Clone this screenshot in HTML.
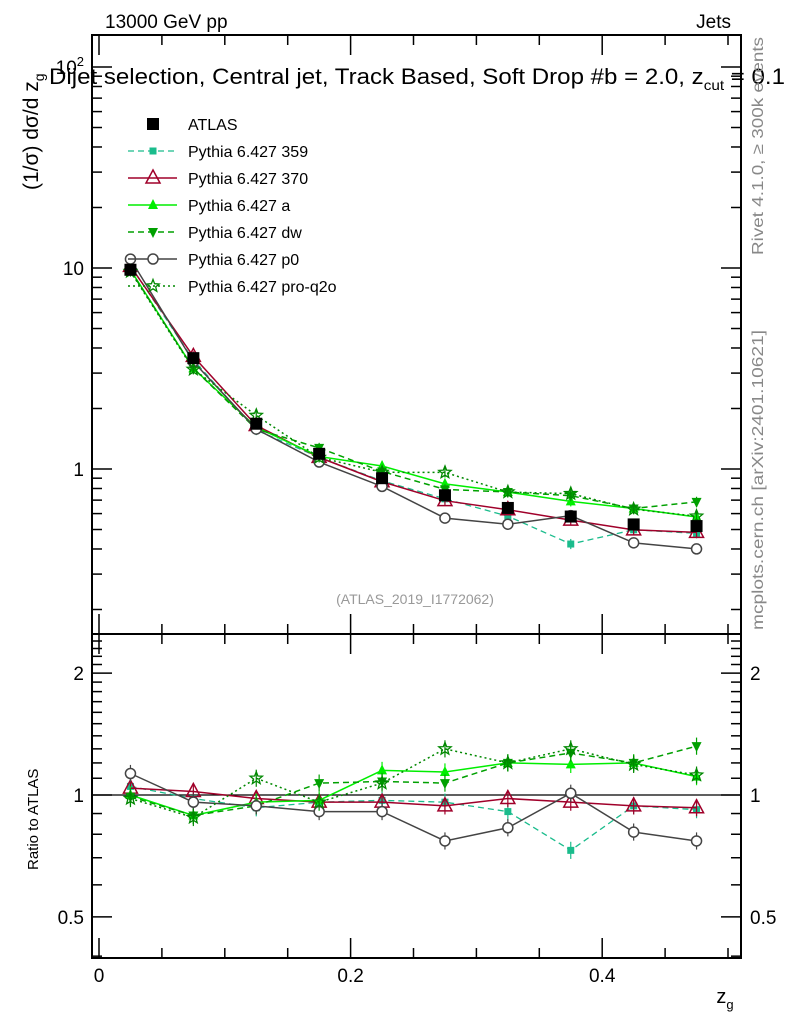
<!DOCTYPE html>
<html><head><meta charset="utf-8">
<style>
body{margin:0;background:#fff;}
svg{display:block;font-family:"Liberation Sans",sans-serif;}
</style></head>
<body>
<svg id="chart" width="786" height="1024" viewBox="0 0 786 1024" xmlns="http://www.w3.org/2000/svg">
<g id="main"></g>
<g id="ratio"></g>
<text x="105" y="28" font-size="19">13000 GeV pp</text>
<text x="731" y="28" font-size="19" text-anchor="end">Jets</text>
<text x="49" y="84" font-size="22" textLength="736" lengthAdjust="spacingAndGlyphs">Dijet selection, Central jet, Track Based, Soft Drop #b = 2.0, z<tspan dy="6" font-size="14">cut</tspan><tspan dy="-6"> = 0.1</tspan></text>
<text transform="translate(38,190) rotate(-90)" font-size="21">(1/σ) dσ/d z<tspan dy="6" font-size="14">g</tspan></text>
<text transform="translate(38,870) rotate(-90)" font-size="15">Ratio to ATLAS</text>
<text x="725" y="1003" font-size="20" text-anchor="middle">z<tspan dy="6" font-size="13">g</tspan></text>
<text transform="translate(763,255) rotate(-90)" font-size="16" fill="#888" textLength="218" lengthAdjust="spacingAndGlyphs">Rivet 4.1.0, ≥ 300k events</text>
<text transform="translate(763,630) rotate(-90)" font-size="16" fill="#888" textLength="300" lengthAdjust="spacingAndGlyphs">mcplots.cern.ch [arXiv:2401.10621]</text>
<text x="415" y="604" font-size="14" fill="#999" text-anchor="middle">(ATLAS_2019_I1772062)</text>
<g id="legend"></g>
</svg>
<script>
const xs=[0.025,0.075,0.125,0.175,0.225,0.275,0.325,0.375,0.425,0.475];
const atlas=[9.8,3.56,1.68,1.19,0.9,0.74,0.64,0.58,0.53,0.52];
const atlasErr=[0.03,0.03,0.03,0.04,0.05,0.05,0.05,0.05,0.05,0.05];
const r359=[1.05,0.98,0.93,0.96,0.97,0.96,0.91,0.73,0.94,0.92];
const r370=[1.04,1.02,0.98,0.96,0.96,0.94,0.98,0.96,0.94,0.93];
const rA=[1.0,0.89,0.96,0.97,1.15,1.14,1.2,1.19,1.2,1.11];
const rDW=[0.99,0.89,0.94,1.07,1.08,1.07,1.2,1.27,1.2,1.32];
const rP0=[1.13,0.96,0.94,0.91,0.91,0.77,0.83,1.01,0.81,0.77];
const rQ2O=[0.98,0.88,1.10,0.96,1.07,1.3,1.2,1.3,1.19,1.12];
const xTicks=[0,0.2,0.4];
const ratioTicks=[0.5,1,2];

const NS="http://www.w3.org/2000/svg";
const L=92,R=741,MT=35,MB=634,RT=634,RB=958;
const X=v=>99+v*1258;
const Y=v=>469-Math.log10(v)*201;
const YR=v=>795-Math.log10(v)*405;
function mk(p,tag,at){const e=document.createElementNS(NS,tag);for(const k in at)e.setAttribute(k,at[k]);p.appendChild(e);return e;}
const main=document.getElementById('main'),ratio=document.getElementById('ratio'),leg=document.getElementById('legend');

const series=[
 {name:'Pythia 6.427 359',r:r359,c:'#1abc8c',dash:'6,4',m:'sq',w:1.3},
 {name:'Pythia 6.427 370',r:r370,c:'#a0002a',dash:'',m:'tri-o',w:1.5},
 {name:'Pythia 6.427 a',r:rA,c:'#00ee00',dash:'',m:'tri',w:1.5},
 {name:'Pythia 6.427 dw',r:rDW,c:'#00a000',dash:'6,4',m:'tri-d',w:1.5},
 {name:'Pythia 6.427 p0',r:rP0,c:'#444',dash:'',m:'circ',w:1.5},
 {name:'Pythia 6.427 pro-q2o',r:rQ2O,c:'#008800',dash:'2,3',m:'star',w:1.5}
];
function marker(p,m,x,y,c){
 let e;
 if(m==='sq')e=mk(p,'rect',{x:x-3.5,y:y-3.5,width:7,height:7,fill:c});
 else if(m==='bsq')e=mk(p,'rect',{x:x-6,y:y-6,width:12,height:12,fill:'#000'});
 else if(m==='tri-o')e=mk(p,'polygon',{points:`${x},${y-8} ${x-7},${y+5} ${x+7},${y+5}`,fill:'none',stroke:c,'stroke-width':1.5});
 else if(m==='tri')e=mk(p,'polygon',{points:`${x},${y-6} ${x-5},${y+4} ${x+5},${y+4}`,fill:c});
 else if(m==='tri-d')e=mk(p,'polygon',{points:`${x},${y+6} ${x-5},${y-4} ${x+5},${y-4}`,fill:c});
 else if(m==='circ')e=mk(p,'circle',{cx:x,cy:y,r:5,fill:'#fff',stroke:c,'stroke-width':1.5});
 else {let pts=[];for(let i=0;i<10;i++){const a=-Math.PI/2+i*Math.PI/5,rr=i%2?2.8:6.5;pts.push((x+rr*Math.cos(a)).toFixed(1)+','+(y+rr*Math.sin(a)).toFixed(1));}
  e=mk(p,'polygon',{points:pts.join(' '),fill:'none',stroke:c,'stroke-width':1.3});}
 return e;
}
for(const [g,t,b] of [[main,MT,MB],[ratio,RT,RB]]){
 const f=mk(g,'rect',{x:L,y:t,width:R-L,height:b-t,fill:'none',stroke:'#000','stroke-width':2});
 
 
}
for(let i=0;i<=10;i++){
 const v=i*0.05;
 const major=i%4===0;
 const len=major?20:10;
 for(const [t,b] of [[MT,MB],[RT,RB]]){
  mk(main,'line',{x1:X(v),x2:X(v),y1:b,y2:b-len,stroke:'#000','stroke-width':1.5});
  mk(main,'line',{x1:X(v),x2:X(v),y1:t,y2:t+len,stroke:'#000','stroke-width':1.5});
 }
}
xTicks.forEach(v=>{const t=mk(ratio,'text',{x:X(v),y:982,'font-size':19,'text-anchor':'middle'});t.textContent=String(v);
 });
for(let d=-1;d<=2;d++)for(let k=1;k<10;k++){
 const v=k*Math.pow(10,d),y=Y(v);if(y<MT||y>MB)continue;
 const len=k===1?20:10;
 mk(main,'line',{x1:L,x2:L+len,y1:y,y2:y,stroke:'#000','stroke-width':1.5});
 mk(main,'line',{x1:R,x2:R-len,y1:y,y2:y,stroke:'#000','stroke-width':1.5});
}
[[1,'1'],[10,'10']].forEach(([v,s])=>{const t=mk(main,'text',{x:84,y:Y(v)+7,'font-size':19,'text-anchor':'end'});t.textContent=s;
 });
{const t=mk(main,'text',{x:84,y:Y(100)+7,'font-size':19,'text-anchor':'end'});t.innerHTML='10<tspan dy="-8" font-size="13">2</tspan>';
 }
for(let v=0.4;v<=2.5;v+=0.1){const y=YR(v);if(y<RT||y>RB)continue;
 const major=[0.5,1,2].some(q=>Math.abs(q-v)<1e-6);const len=major?20:10;
 mk(ratio,'line',{x1:L,x2:L+len,y1:y,y2:y,stroke:'#000','stroke-width':1.5});
 mk(ratio,'line',{x1:R,x2:R-len,y1:y,y2:y,stroke:'#000','stroke-width':1.5});}
ratioTicks.forEach(v=>{for(const [x,a] of [[84,'end'],[750,'start']]){const t=mk(ratio,'text',{x:x,y:YR(v)+7,'font-size':19,'text-anchor':a});t.textContent=String(v);
 }});
mk(ratio,'line',{x1:L,x2:R,y1:YR(1),y2:YR(1),stroke:'#000','stroke-width':1.2});
series.forEach(s=>{
 const vals=s.r.map((r,i)=>r*atlas[i]);
 const gm=mk(main,'g',{});
 const gr=mk(ratio,'g',{});
 mk(gm,'polyline',{points:xs.map((x,i)=>X(x)+','+Y(vals[i])).join(' '),fill:'none',stroke:s.c,'stroke-width':s.w,'stroke-dasharray':s.dash});
 mk(gr,'polyline',{points:xs.map((x,i)=>X(x)+','+YR(s.r[i])).join(' '),fill:'none',stroke:s.c,'stroke-width':s.w,'stroke-dasharray':s.dash});
 xs.forEach((x,i)=>{
  mk(gm,'line',{x1:X(x),x2:X(x),y1:Y(vals[i]*1.06),y2:Y(vals[i]/1.06),stroke:s.c,'stroke-width':1.2});
  mk(gr,'line',{x1:X(x),x2:X(x),y1:YR(s.r[i]*1.05),y2:YR(s.r[i]/1.05),stroke:s.c,'stroke-width':1.2});
  marker(gm,s.m,X(x),Y(vals[i]),s.c);marker(gr,s.m,X(x),YR(s.r[i]),s.c);
 });
});
const ga=mk(main,'g',{});
xs.forEach((x,i)=>{
 mk(ga,'line',{x1:X(x),x2:X(x),y1:Y(atlas[i]*(1+atlasErr[i])),y2:Y(atlas[i]*(1-atlasErr[i])),stroke:'#000','stroke-width':1.5});
 marker(ga,'bsq',X(x),Y(atlas[i]),'#000');
});
const ly0=124,ldy=27;
{const g=mk(leg,'g',{});
 marker(g,'bsq',153,ly0,'#000');const t=mk(g,'text',{x:188,y:ly0+6,'font-size':16});t.textContent='ATLAS';}
series.forEach((s,i)=>{const y=ly0+ldy*(i+1);const g=mk(leg,'g',{});
 
 mk(g,'line',{x1:128,x2:177,y1:y,y2:y,stroke:s.c,'stroke-width':s.w,'stroke-dasharray':s.dash});
 marker(g,s.m,153,y,s.c);const t=mk(g,'text',{x:188,y:y+6,'font-size':16});t.textContent=s.name;});
</script>
</body></html>
